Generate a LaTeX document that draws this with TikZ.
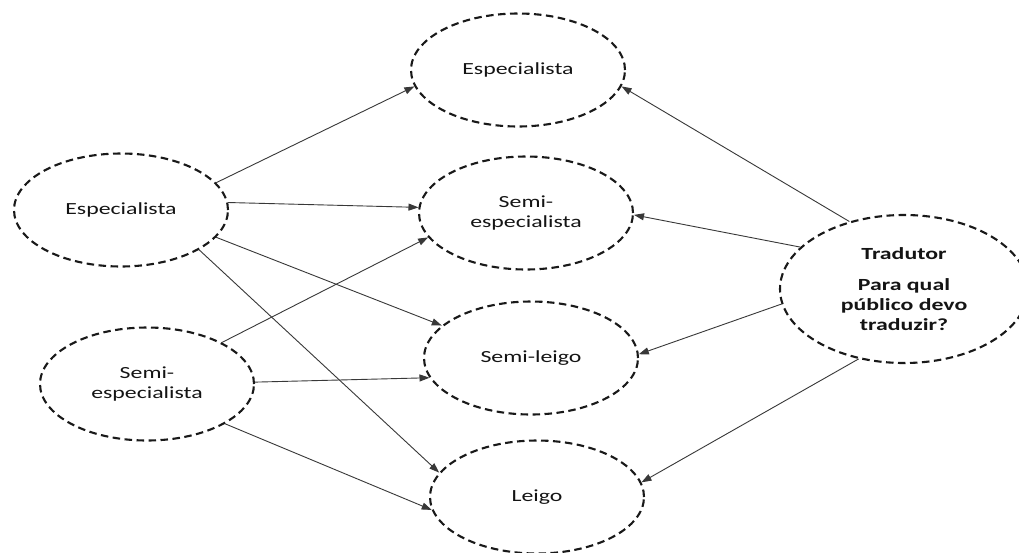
\documentclass[tikz,border=0pt]{standalone}
\usepackage{graphicx}
\usepackage{fontspec}
\setmainfont{Carlito}
\usetikzlibrary{shapes.geometric,arrows.meta}
% labels are set wide, stretched horizontally
\newcommand{\wide}[1]{\scalebox{1.4}[1]{#1}}
\begin{document}
\begin{tikzpicture}[x=1pt,y=-1pt,
  bubble/.style={ellipse, draw=black!90, line width=2.1pt,
    dash pattern=on 7.5pt off 4.5pt, inner sep=0pt, align=center,
    text=black!92, font=\fontsize{17}{20}\selectfont},
  small/.style={minimum width=214pt, minimum height=113pt},
  link/.style={draw=black!78, line width=0.9pt,
    -{Triangle[length=10pt,width=7pt]}}]
\useasboundingbox[fill=white] (0,0) rectangle (1019,552);

% audiences of the source text
\node[bubble, small] (L1) at (121,210) {\wide{Especialista}};
\node[bubble, small] (L2) at (147,384) {\wide{Semi-}\\\wide{especialista}};

% audiences of the translation
\node[bubble, small] (R1) at (518,70)  {\wide{Especialista}};
\node[bubble, small] (R2) at (526,213) {\wide{Semi-}\\\wide{especialista}};
\node[bubble, small] (R3) at (531,358) {\wide{Semi-leigo}};
\node[bubble, small] (R4) at (537,497) {\wide{Leigo}};

% the translator
\node[bubble, minimum width=248pt, minimum height=148pt,
  font=\fontsize{17}{20}\selectfont\bfseries] (T) at (904,289)
  {\wide{Tradutor}\\[11pt]\wide{Para qual}\\\wide{público devo}\\\wide{traduzir?}};

% connectors
\draw[link] (L1.16)  -- (R1.189);
\draw[link] (L1.4)   -- (R2.177);
\draw[link] (L1.344) -- (R3.160);
\draw[link] (L1.333) -- (R4.166);
\draw[link] (L2.29)  -- (R2.194);
\draw[link] (L2.1)   -- (R3.191);
\draw[link] (L2.333) -- (R4.187);
\draw[link] (T.129)  -- (R1.351);
\draw[link] (T.158)  -- (R2.359);
\draw[link] (T.187)  -- (R3.2);
\draw[link] (T.237)  -- (R4.8);
\end{tikzpicture}
\end{document}
